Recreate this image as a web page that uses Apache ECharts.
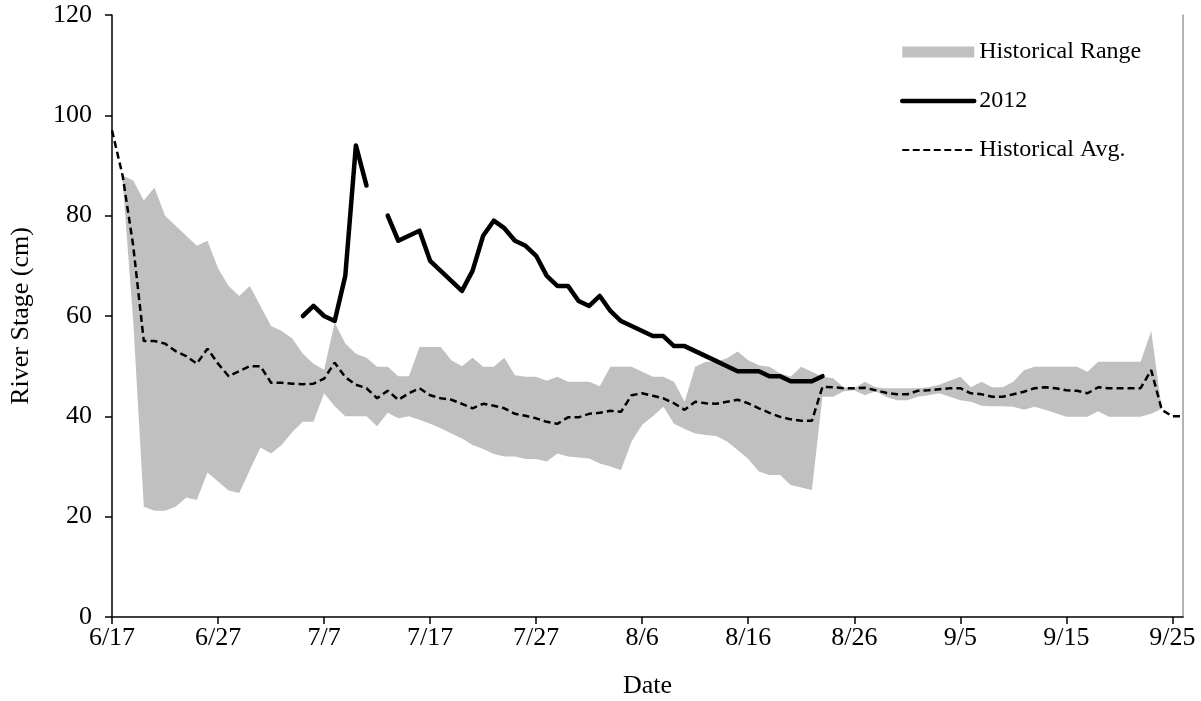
<!DOCTYPE html>
<html><head><meta charset="utf-8">
<script src="https://cdn.jsdelivr.net/npm/echarts@6/dist/echarts.min.js"></script>
<style>html,body{margin:0;padding:0;background:#fff}#c{width:1201px;height:701px}</style>
</head><body><div id="c"></div>
<script>
// Categories: daily dates 6/17 .. 9/26 (2012)
const categories = (function () {
  const out = [];
  const d = new Date(2012, 5, 17);
  for (let i = 0; i < 102; i++) { out.push((d.getMonth() + 1) + '/' + d.getDate()); d.setDate(d.getDate() + 1); }
  return out;
})();

// Historical average river stage (cm), one value per day from 6/17
const histAvg = [
  97, 88, 74, 55, 55, 54.5, 53, 52, 50.5, 53.5,
  50.5, 48, 49, 50, 50, 46.7, 46.7, 46.5, 46.4, 46.5,
  47.5, 50.7, 47.8, 46.3, 45.6, 43.6, 45.1, 43.3, 44.6, 45.6,
  44.2, 43.6, 43.3, 42.5, 41.6, 42.5, 42.1, 41.6, 40.5, 40.1,
  39.6, 38.9, 38.5, 39.8, 39.8, 40.5, 40.7, 41.1, 40.9, 44.2,
  44.6, 44.1, 43.6, 42.6, 41.3, 42.9, 42.6, 42.5, 42.9, 43.3,
  42.6, 41.6, 40.7, 39.9, 39.4, 39.1, 39.1, 45.9, 45.8, 45.6,
  45.6, 45.7, 45.2, 44.7, 44.4, 44.4, 45.1, 45.2, 45.4, 45.6,
  45.6, 44.6, 44.4, 43.9, 43.9, 44.4, 44.9, 45.6, 45.8, 45.6,
  45.2, 45.1, 44.6, 45.8, 45.6, 45.6, 45.6, 45.6, 49.2, 41.3,
  40, 40
];

// Historical range: maximum
const histMax = [
  null, 88, 87, 83, 85.6, 80, 78, 76, 74, 75,
  69.5, 66, 64, 66, 62, 58, 57, 55.5, 52.5, 50.5,
  49.3, 58.7, 54.5, 52.5, 51.7, 49.9, 49.9, 48, 48, 53.8,
  53.8, 53.8, 51.2, 50, 51.7, 49.9, 49.9, 51.7, 48.2, 47.9,
  47.9, 47.1, 47.9, 46.9, 46.9, 46.9, 46, 49.9, 49.9, 49.9,
  48.9, 47.9, 47.9, 46.9, 42.9, 49.9, 50.9, 50.9, 51.6, 52.9,
  51.2, 50.2, 49.9, 48.6, 47.9, 49.9, 48.9, 47.9, 47.6, 45.8,
  45.6, 46.9, 45.8, 45.6, 45.6, 45.6, 45.6, 45.8, 46.3, 47.1,
  47.9, 45.8, 46.9, 45.8, 45.8, 46.9, 49.2, 49.9, 49.9, 49.9,
  49.9, 49.9, 48.9, 50.9, 50.9, 50.9, 50.9, 50.9, 57, 41.5,
  null, null
];

// Historical range: minimum
const histMin = [
  null, 87, 59, 22, 21.2, 21.2, 22, 23.8, 23.3, 28.8,
  27, 25.2, 24.7, 29.3, 33.8, 32.6, 34.3, 36.9, 38.9, 38.9,
  44.6, 42, 40, 40, 40, 38, 40.7, 39.6, 40, 39.3,
  38.5, 37.6, 36.6, 35.6, 34.3, 33.5, 32.5, 32, 32, 31.5,
  31.5, 31, 32.6, 32, 31.8, 31.6, 30.6, 30, 29.3, 35,
  38.3, 40, 41.9, 38.5, 37.5, 36.6, 36.3, 36.1, 35, 33.3,
  31.5, 29, 28.3, 28.3, 26.3, 25.8, 25.3, 43.9, 43.9, 45,
  45.2, 44.2, 45, 43.9, 43.2, 43.2, 43.9, 44.2, 44.6, 43.9,
  43.2, 42.9, 42.1, 42, 42, 41.9, 41.3, 41.9, 41.3, 40.6,
  39.9, 39.9, 39.9, 41, 39.9, 39.9, 39.9, 39.9, 40.5, 41.5,
  null, null
];

// 2012 river stage (cm); null = no record
const stage2012 = [
  null, null, null, null, null, null, null, null, null, null,
  null, null, null, null, null, null, null, null, 60, 62,
  60, 59, 68, 94, 86, null, 80, 75, 76, 77,
  71, 69, 67, 65, 69, 76, 79, 77.5, 75, 74,
  72, 68, 66, 66, 63, 62, 64, 61, 59, 58,
  57, 56, 56, 54, 54, 53, 52, 51, 50, 49,
  49, 49, 48, 48, 47, 47, 47, 48, null, null,
  null, null, null, null, null, null, null, null, null, null,
  null, null, null, null, null, null, null, null, null, null,
  null, null, null, null, null, null, null, null, null, null,
  null, null
];

const yTicks = { min: 0, max: 120, interval: 20 };

const FONT = '"Liberation Serif", "Times New Roman", serif';
const rangeSpan = histMax.map((u, i) => (u == null || histMin[i] == null) ? null : +(u - histMin[i]).toFixed(2));

const chart = echarts.init(document.getElementById('c'), null, { renderer: 'canvas' });
chart.setOption({
  animation: false,
  backgroundColor: '#fff',
  grid: { left: 112, right: 18, top: 15, bottom: 84, outerBoundsMode: 'none', containLabel: false },
  legend: {
    orient: 'vertical', left: 900, top: 40, padding: 0,
    itemWidth: 72, itemHeight: 11, itemGap: 25,
    selectedMode: false,
    textStyle: { fontFamily: FONT, fontSize: 24, color: '#000', lineHeight: 24 },
    data: [
      { name: 'Historical Range', icon: 'rect', itemStyle: { color: '#c0c0c0' } },
      { name: '2012', itemStyle: { opacity: 0 }, lineStyle: { color: '#000', width: 4.5, cap: 'round' } },
      { name: 'Historical Avg.', itemStyle: { opacity: 0 }, lineStyle: { color: '#000', width: 2.2, type: [7, 3.5] } }
    ]
  },
  xAxis: {
    type: 'category', data: categories, boundaryGap: false,
    axisLine: { lineStyle: { color: '#000', width: 1.5 } },
    axisTick: { show: true, interval: 9, length: 7, lineStyle: { color: '#000', width: 1.5 } },
    axisLabel: { interval: 9, margin: 8, fontFamily: FONT, fontSize: 26, color: '#000' },
    splitLine: { show: false },
    name: 'Date', nameLocation: 'middle', nameGap: 56,
    nameTextStyle: { fontFamily: FONT, fontSize: 26, color: '#000' }
  },
  yAxis: [{
    type: 'value', min: yTicks.min, max: yTicks.max, interval: yTicks.interval,
    axisLine: { show: true, lineStyle: { color: '#000', width: 1.5 } },
    axisTick: { show: true, length: 7, lineStyle: { color: '#000', width: 1.5 } },
    axisLabel: { margin: 20, fontFamily: FONT, fontSize: 26, color: '#000' },
    splitLine: { show: false },
    name: 'River Stage (cm)', nameLocation: 'middle', nameGap: 78, nameRotate: 90,
    nameTextStyle: { fontFamily: FONT, fontSize: 26, color: '#000' }
  }, {
    type: 'value', position: 'right', min: yTicks.min, max: yTicks.max, interval: yTicks.interval,
    axisLine: { show: true, lineStyle: { color: '#9a9a9a', width: 1.5 } },
    axisTick: { show: false }, axisLabel: { show: false }, splitLine: { show: false }
  }],
  series: [
    {
      name: 'rangeBase', type: 'line', data: histMin, stack: 'range', symbol: 'none',
      lineStyle: { opacity: 0, width: 0 }, silent: true, z: 1
    },
    {
      name: 'Historical Range', type: 'line', data: rangeSpan, stack: 'range', symbol: 'none',
      lineStyle: { opacity: 0, width: 0 }, itemStyle: { color: '#c0c0c0' },
      areaStyle: { color: '#c0c0c0', opacity: 1 }, z: 1
    },
    {
      name: 'Historical Avg.', type: 'line', data: histAvg, symbol: 'none',
      itemStyle: { color: '#000' },
      lineStyle: { color: '#000', width: 2.5, type: [7, 4] }, z: 3
    },
    {
      name: '2012', type: 'line', data: stage2012, symbol: 'none', connectNulls: false,
      itemStyle: { color: '#000' },
      lineStyle: { color: '#000', width: 4.5, cap: 'round', join: 'round' }, z: 4
    }
  ]
});
</script>
</body></html>
